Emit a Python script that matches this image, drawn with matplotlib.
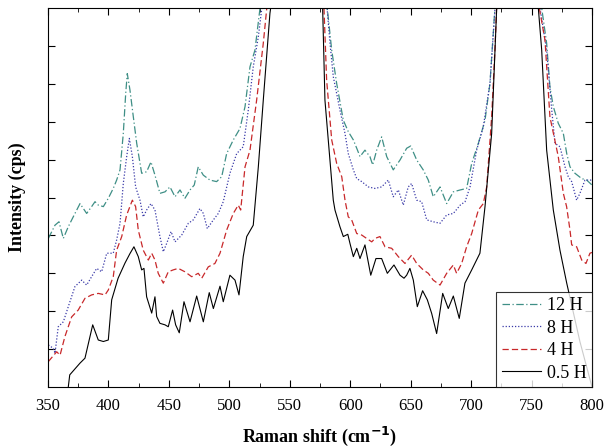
import matplotlib
matplotlib.use('Agg')
import matplotlib.pyplot as plt
import numpy as np

plt.rcParams['font.family'] = ['Liberation Serif', 'DejaVu Serif']

# 0.5 H, black solid
x05 = [366.8, 368, 376.5, 380.6, 387, 391.6, 395.8, 399.9, 402.7, 408, 413.7, 417.8, 421.1, 424.7, 427.5,
       429.4, 431.6, 435.8, 438.5, 439.9, 442.6, 446.8, 449.5, 453.1, 455.6, 458.6, 462.5, 467.5, 473,
       478.5, 483.4, 486.8, 492.3, 495, 500.5, 504.7, 508, 511.5, 514.4, 519.8, 524, 528.1, 533.6, 534.2,
       555, 577.2, 579.1, 586, 587.4, 591.5, 594.3, 598, 599.8, 602.6, 605.4, 608.1, 612.2, 617, 621.3,
       626, 630.7, 636.2, 641.2, 644.5, 646.7, 649.4, 652.2, 655.5, 659.9, 663.8, 667.4, 671.5, 676.5,
       681.1, 685.3, 690.2, 694.9, 700.5, 707.3, 711.5, 717, 721.1, 738, 755.6, 758.4, 762.5, 768,
       773.5, 779.1, 790, 800]
y05 = [0.0, 0.32, 0.63, 0.76, 1.64, 1.24, 1.20, 1.24, 2.30, 2.87, 3.27, 3.52, 3.70, 3.44, 3.09,
       3.13, 2.38, 1.95, 2.38, 1.86, 1.68, 1.64, 1.59, 2.03, 1.64, 1.43, 2.25, 1.72, 2.40,
       1.72, 2.49, 2.07, 2.66, 2.25, 2.95, 2.82, 2.43, 3.44, 3.97, 4.27, 5.81, 7.57, 9.86, 10.0,
       15.0, 10.0, 7.57, 4.93, 4.67, 4.23, 3.97, 4.03, 3.79, 3.44, 3.66, 3.39, 3.75, 2.95, 3.39,
       3.39, 3.00, 3.22, 2.95, 2.87, 2.95, 3.13, 2.82, 2.12, 2.54, 2.30, 1.94, 1.41, 2.47,
       2.07, 2.40, 1.81, 2.74, 3.09, 3.53, 4.76, 6.69, 9.95, 15.0, 10.0, 8.89, 6.25, 4.67,
       3.61, 2.74, 1.2, 0.0]

# 4 H, red dashed
x4 = [350.3, 357.2, 360, 364, 369.6, 375, 380.6, 386.1, 391.6, 397.2, 399.9, 404, 406.8, 411, 415.1,
      419.8, 422.5, 424.7, 428.8, 433, 435.8, 438.5, 441.2, 445.4, 449.5, 453.6, 457.8, 463.3, 468.9,
      474.3, 477.2, 482.6, 488.1, 492.3, 497.8, 503.3, 507.4, 509.4, 513, 517.1, 522.6, 528.1, 531,
      555, 578.3, 580.5, 581.9, 584.7, 588.8, 593, 595.7, 598.4, 601.2, 605.4, 609.5, 613.6, 617.8,
      620.5, 624.6, 628.8, 634.3, 639.8, 645.3, 650.8, 655, 660.4, 664.6, 668.7, 674.3, 679.8, 685.3,
      688, 692.2, 696.3, 700.5, 706, 710.1, 712.9, 717, 719.7, 721.1, 738, 756.4, 761.1, 765.2,
      772.1, 776.3, 779, 781.8, 783.2, 787.3, 791.5, 795, 798.3, 800]
y4 = [0.67, 0.93, 0.84, 1.33, 1.85, 2.03, 2.34, 2.43, 2.47, 2.43, 2.56, 2.91, 3.61, 3.97, 4.54,
      4.93, 4.76, 4.14, 3.61, 3.35, 3.53, 3.35, 3.00, 2.74, 3.04, 3.09, 3.13, 3.04, 2.91,
      3.00, 2.87, 3.17, 3.26, 3.53, 4.14, 4.58, 4.80, 4.67, 5.81, 6.25, 7.57, 9.07, 10.0,
      15.0, 10.0, 8.10, 7.57, 6.52, 5.90, 5.55, 4.93, 4.49, 4.41, 4.05, 4.01, 3.92, 3.83,
      3.92, 3.97, 3.70, 3.66, 3.44, 3.26, 3.48, 3.26, 3.09, 3.00, 2.82, 2.69, 3.00, 3.22,
      3.00, 3.26, 3.70, 4.05, 4.67, 4.84, 5.28, 7.13, 8.89, 10.0, 15.0, 10.0, 9.16, 7.13,
      6.08, 5.11, 4.76, 4.14, 3.75, 3.70, 3.35, 3.26, 3.53, 3.55]

# 8 H, blue dotted
x8 = [350.3, 354.4, 355.8, 358.5, 362.7, 366.8, 372.3, 377.9, 382, 386.1, 390.3, 394.4, 398.6, 404,
      406.8, 409.6, 412.3, 415.1, 417.3, 419.8, 422.5, 426.1, 428.8, 431.6, 435.2, 438.5, 442.6, 445.4,
      448.2, 451.8, 455.1, 460.6, 466.1, 470.2, 475.7, 478.5, 481.8, 486.8, 490.9, 495, 500.5, 506.1,
      511.5, 515.7, 519.8, 524, 526.7, 555, 581, 583.3, 586, 591.5, 595.7, 598.4, 602.6, 605.4, 609.5,
      615, 620.5, 626, 631.5, 635.6, 639.8, 643.9, 648, 650.8, 655, 659.1, 663.3, 668.7, 674.3, 679.8,
      685.3, 691, 695, 699.1, 704.6, 710.1, 715.6, 719.7, 738, 757, 762.5, 766.7, 769.4, 773.5, 777.7,
      780.4, 783.2, 787.3, 790, 794.2, 800]
y8 = [1.11, 1.02, 0.89, 1.59, 1.72, 2.12, 2.65, 2.82, 2.69, 2.91, 3.13, 3.04, 3.53, 3.53,
      3.88, 4.32, 5.37, 6.08, 6.56, 6.08, 5.28, 4.93, 4.49, 4.67, 4.84, 4.67, 3.97, 3.57,
      3.79, 4.10, 3.83, 4.01, 4.32, 4.41, 4.71, 4.58, 4.18, 4.41, 4.58, 4.89, 5.64, 6.16,
      6.34, 7.31, 8.45, 9.24, 9.95, 15.0, 9.95, 9.07, 8.19, 7.31, 6.69, 6.16, 5.73, 5.50, 5.42,
      5.28, 5.24, 5.28, 5.46, 5.02, 5.20, 4.80, 5.28, 5.37, 4.93, 4.89, 4.41, 4.36, 4.32, 4.54,
      4.58, 4.80, 4.89, 5.28, 6.25, 6.87, 8.01, 9.95, 15.0, 10.0, 8.89, 7.31, 6.43, 6.34, 5.81,
      5.55, 5.42, 4.93, 5.11, 5.46, 5.46]

# 12 H, teal dash-dot
x12 = [350.3, 355.8, 359.1, 362.7, 366.8, 370.9, 376.5, 382, 386.1, 388.9, 391.6, 395.8, 399.9, 404,
       406.8, 409.6, 412.3, 414.3, 415.6, 417.8, 420.6, 423.4, 427.5, 431.6, 435.2, 438.5, 442.6, 446.8,
       450.9, 455.1, 459.2, 463.3, 467.5, 471, 474.3, 478.5, 484, 489.5, 493.7, 497.8, 503.3, 508.8,
       513, 517.1, 521.2, 525.4, 555, 581, 584.7, 588.8, 594.3, 598.4, 602.6, 605.4, 608.1, 612.2,
       616.3, 618.6, 621.9, 626, 630.2, 635.6, 641.2, 646.7, 650, 655, 660.4, 664.6, 668.7, 674.3,
       679.8, 685.3, 691, 696.3, 700.5, 706, 711.5, 715.6, 719.7, 738, 758.4, 762.5, 765.2, 768,
       772.1, 776.3, 779.1, 781.8, 785.9, 791.5, 795.6, 800]
y12 = [3.92, 4.27, 4.36, 3.92, 4.23, 4.49, 4.84, 4.58, 4.76, 4.89, 4.80, 4.76, 4.98, 5.24,
       5.46, 5.73, 6.69, 7.75, 8.27, 7.84, 7.13, 6.43, 5.64, 5.68, 5.94, 5.59, 5.11, 5.15,
       5.28, 5.02, 5.20, 4.98, 5.20, 5.33, 5.81, 5.59, 5.46, 5.42, 5.55, 6.16, 6.52, 6.82,
       7.40, 8.45, 8.89, 10.0, 15.0, 10.0, 8.89, 8.01, 7.04, 6.74, 6.52, 6.30, 6.08, 6.25,
       6.08, 5.86, 6.25, 6.60, 6.08, 5.73, 5.99, 6.30, 6.36, 5.99, 5.73, 5.46, 5.02, 5.28,
       4.84, 5.15, 5.20, 5.24, 5.90, 6.43, 7.04, 8.01, 10.0, 15.0, 10.0, 9.07, 7.92, 7.40,
       6.96, 6.69, 6.16, 5.81, 5.64, 5.50, 5.46, 5.33]

fig = plt.figure(figsize=(6.05, 4.48), dpi=100)
ax = fig.add_axes([0.0793, 0.1362, 0.8992, 0.8458])

ax.plot(x12, y12, color='#3f8f86', lw=0.9, dashes=[6, 2, 1, 2], label='12 H')
ax.plot(x8, y8, color='#3a3aa8', lw=0.9, dashes=[1, 1.5], label='8 H')
ax.plot(x4, y4, color='#c8282a', lw=0.9, dashes=[5, 2.5], label='4 H')
ax.plot(x05, y05, color='black', lw=0.8, label='0.5 H')

ax.set_xlim(350, 800)
ax.set_ylim(0, 10)
ax.set_xticks(np.arange(350, 801, 50))
ax.set_xticks(np.arange(375, 800, 50), minor=True)
ax.set_yticks(np.arange(1, 10, 1))
ax.set_yticklabels([])
ax.tick_params(direction='in', top=True, right=True, which='both', labelsize=12)
ax.tick_params(which='major', length=5)
ax.tick_params(which='minor', length=3)
ax.tick_params(axis='x', pad=8)

ax.set_xlabel('Raman shift (cm$^{\\mathbf{-1}}$)', fontsize=13, fontweight='bold', labelpad=8)
ax.set_ylabel('Intensity (cps)', fontsize=13, fontweight='bold', labelpad=12)

leg = ax.legend(loc='lower right', fontsize=13, frameon=True, fancybox=False, edgecolor='black',
                borderaxespad=0, handlelength=2.2, labelspacing=0.3, borderpad=0.3, handletextpad=0.3)
leg.get_frame().set_linewidth(0.8)

plt.savefig('out.png')
plt.close()
